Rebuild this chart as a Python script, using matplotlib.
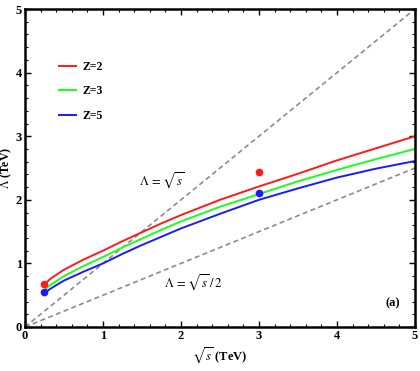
import matplotlib
matplotlib.use("Agg")
import matplotlib.pyplot as plt
from matplotlib.ticker import MultipleLocator

plt.rcParams['font.family'] = ['Liberation Serif', 'DejaVu Serif']
plt.rcParams['mathtext.fontset'] = 'stix'

x_curve = [0.25, 0.3, 0.35, 0.5, 0.75, 1.0, 1.25, 1.5, 1.75, 2.0, 2.5, 3.0, 3.5, 4.0, 4.5, 5.0]
z2 = [0.66, 0.73, 0.78, 0.90, 1.06, 1.20, 1.35, 1.49, 1.63, 1.76, 2.00, 2.21, 2.41, 2.62, 2.81, 3.00]
z3 = [0.57, 0.64, 0.68, 0.80, 0.96, 1.10, 1.25, 1.39, 1.53, 1.66, 1.89, 2.09, 2.29, 2.47, 2.64, 2.80]
z5 = [0.51, 0.58, 0.62, 0.73, 0.87, 1.00, 1.15, 1.29, 1.42, 1.55, 1.78, 2.00, 2.18, 2.35, 2.49, 2.61]

red_pts_x = [0.25, 3.0]
red_pts_y = [0.68, 2.44]
blue_pts_x = [0.25, 3.0]
blue_pts_y = [0.55, 2.10]

diag_x = [0, 5]
diag_y = [0, 5]
half_y = [0, 2.5]

fig = plt.figure(figsize=(4.2, 3.71), dpi=100)
ax = fig.add_axes([0.0595, 0.1186, 0.9285, 0.857])

ax.plot(diag_x, diag_y, color='#8c8c8c', lw=1.2, ls=(0, (3, 2)))
ax.plot(diag_x, half_y, color='#8c8c8c', lw=1.2, ls=(0, (3, 2)))
ax.plot(x_curve, z2, color='#ff1a1a', lw=1.4, label='Z=2')
ax.plot(x_curve, z3, color='#1aff1a', lw=1.4, label='Z=3')
ax.plot(x_curve, z5, color='#1a1aff', lw=1.4, label='Z=5')
ax.plot(red_pts_x, red_pts_y, 'o', color='#ff1a1a', ms=4.5)
ax.plot(blue_pts_x, blue_pts_y, 'o', color='#1a1aff', ms=4.5)

ax.set_xlim(0, 5)
ax.set_ylim(0, 5)
ax.xaxis.set_major_locator(MultipleLocator(1))
ax.yaxis.set_major_locator(MultipleLocator(1))
ax.xaxis.set_minor_locator(MultipleLocator(0.2))
ax.yaxis.set_minor_locator(MultipleLocator(0.2))
ax.tick_params(which='both', direction='in', top=True, right=True, labelsize=9, pad=2)
ax.tick_params(which='major', length=4, width=1.0)
ax.tick_params(which='minor', length=2, width=0.8)
for lab in ax.get_xticklabels() + ax.get_yticklabels():
    lab.set_fontweight('bold')
for sp in ax.spines.values():
    sp.set_linewidth(1.8)

ax.set_xlabel(r'$\sqrt{s}$ (TeV)', fontsize=9, fontweight='bold', labelpad=3)
ax.set_ylabel(r'$\Lambda$ (TeV)', fontsize=8.5, fontweight='bold')
ax.yaxis.set_label_coords(-0.028, 0.5)

ax.text(1.75, 2.3, r'$\Lambda\,=\,\sqrt{s}$', fontsize=9, ha='center', va='center')
ax.text(2.15, 0.69, r'$\Lambda\,=\,\sqrt{s}\,/\,2$', fontsize=9, ha='center', va='center')
ax.text(4.72, 0.38, '(a)', fontsize=9, fontweight='bold', ha='center', va='center')

leg = ax.legend(loc='upper left', bbox_to_anchor=(0.06, 0.87), frameon=False,
                handlelength=1.4, handletextpad=0.6, labelspacing=1.05,
                prop={'size': 8.5, 'weight': 'bold'})

fig.savefig('out.png', dpi=100)
